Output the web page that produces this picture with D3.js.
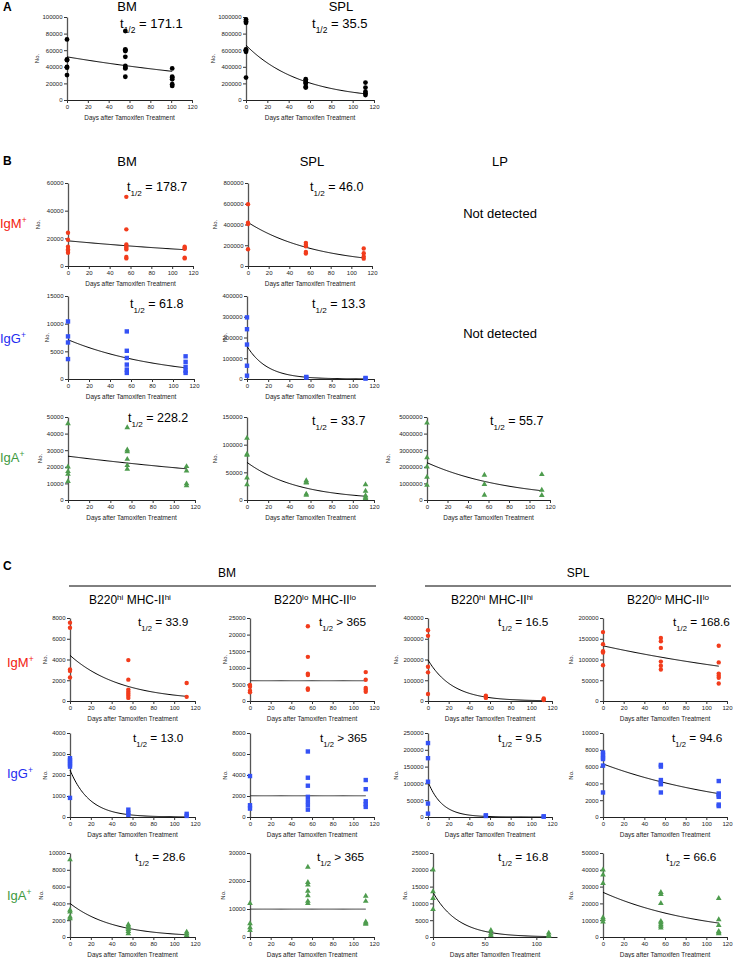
<!DOCTYPE html>
<html><head><meta charset="utf-8">
<script src="https://cdn.jsdelivr.net/npm/d3@7"></script>
<style>
body{margin:0;background:#fff}
svg{display:block}
text{font-family:"Liberation Sans",Arial,Helvetica,sans-serif;fill:#000}
</style>
</head><body>
<svg id="chart" width="733" height="958"></svg>
<script>
// ---------------- DATA ----------------
// each plot: [values at day 0, values at day ~56, values at day ~112]
const A_BM = [[73000,49000,48000,40000,39000,30000],[83000,61000,60000,59000,52000,41000,39000,38000,28000],[38000,28000,27000,25000,19000,17000]];
const A_SPL = [[970000,950000,930000,610000,600000,580000,270000],[250000,230000,210000,200000,160000,150000],[210000,150000,100000,80000,60000]];
const B_IgM_BM = [[24000,19000,14000,12000,11000,9500],[50000,26500,15500,14000,13000,12000,6500,5500],[14000,13000,12500,6000,5500]];
const B_IgM_SPL = [[596000,418000,404000,162000],[223000,204000,191000,136000,120000],[168000,123000,91000,71000]];
const B_IgG_BM = [[10400,7700,6600,3600],[8600,5100,3800,2600,1700,1100],[4100,3100,2200,1500,1100]];
const B_IgG_SPL = [[297000,240000,166000,64000,16000],[10000,7000],[5000,2000]];
const B_IgA_BM = [[46000,20000,17200,15600,11200],[43600,30200,29200,24600,20800,18600],[20200,17600,9800,8600]];
const B_IgA_SPL = [[112000,83000,81000,40000,28000],[35000,32000,31000,11000,9000],[28000,16000,8000,5000,3000]];
const B_IgA_LP = [[4640000,2560000,2000000,1380000,900000],[1500000,940000,300000],[1540000,600000,280000]];
const C_IgM_1 = [[7550,7060,3030,2900,2260],[3940,2060,1100,900,700,500,300],[1740,400]];
const C_IgM_2 = [[4800,4300,3100,2600],[22500,13300,8200,7800,3800,3400],[8700,6400,3900,3400,2800]];
const C_IgM_3 = [[341000,314000,165000,138000,34000],[25000,20000,15000],[12000,8000,5000]];
const C_IgM_4 = [[166000,137000,120000,117000,86000],[152000,144000,128000,95000,85000,76000],[133000,93000,66000,61000,56000,42000]];
const C_IgG_1 = [[2800,2700,2600,2500,2400,910],[350,200,100],[150,50]];
const C_IgG_2 = [[3900,1120,800],[6240,3740,2980,1920,1500,1120,700],[3520,2650,1500,1220,960]];
const C_IgG_3 = [[220000,175000,105000,40000,10000],[5000,3000],[2000,1000]];
const C_IgG_4 = [[7680,7400,7080,6900,6120,2920],[6200,6000,4400,4120,3900,2920],[4280,2800,2600,2400,1480,1300]];
const C_IgA_1 = [[9200,3200,3000,2400,2200],[1480,1300,1100,900,680,400],[600,400,200]];
const C_IgA_2 = [[12000,4800,3360,2400],[25000,19500,18600,16400,14800,12800,12000],[14600,12800,5400,5000,4560]];
const C_IgA_3 = [[20000,13500,11500,8200],[2000,1000,500],[1200,600,300]];
const C_IgA_4 = [[40000,37000,32000,11600,10500,9000],[26600,25400,20000,9400,8500,7400,6500,5400],[23000,10400,7000,3400,2600,2000]];

const plotData = [A_BM,A_SPL,B_IgM_BM,B_IgM_SPL,B_IgG_BM,B_IgG_SPL,B_IgA_BM,B_IgA_SPL,B_IgA_LP,
  C_IgM_1,C_IgM_2,C_IgM_3,C_IgM_4,C_IgG_1,C_IgG_2,C_IgG_3,C_IgG_4,C_IgA_1,C_IgA_2,C_IgA_3,C_IgA_4];
// sampling days for each plot
const sampleDays = [[0,56,101],[0,56,112],[0,56,112],[0,56,112],[0,56,112],[0,56,112],[0,56,112],[0,56,112],[0,56,112],
  [0,56,112],[0,56,112],[0,56,112],[0,56,112],[0,56,112],[0,56,112],[0,56,112],[0,56,112],[0,56,112],[0,56,112],[0,56,112],[0,56,112]];
// fitted exponential decay: start value and half-life (null = flat, t1/2 > 365)
const fitStart = [52000,660000,18200,420000,7100,158000,26400,68000,2250000,
  4400,6100,198000,133000,2240,2020,105000,6320,4000,9960,13300,26600];
const halfLife = [171.1,35.5,178.7,46.0,61.8,13.3,228.2,33.7,55.7,
  33.9,null,16.5,168.6,13.0,null,9.5,94.6,28.6,null,16.8,66.6];
const halfLabel = ["= 171.1","= 35.5","= 178.7","= 46.0","= 61.8","= 13.3","= 228.2","= 33.7","= 55.7",
  "= 33.9","> 365","= 16.5","= 168.6","= 13.0","> 365","= 9.5","= 94.6","= 28.6","> 365","= 16.8","= 66.6"];
// y axis tick labels (max, step)
const yMax = [100000,1000000,60000,800000,15000,400000,50000,150000,5000000,
  8000,25000,400000,200000,4000,8000,250000,10000,10000,30000,25000,50000];
const yStep = [20000,200000,20000,200000,5000,100000,10000,50000,1000000,
  2000,5000,100000,50000,1000,2000,50000,2000,2000,10000,5000,10000];
const xTicksStd = [0,20,40,60,80,100,120];
const xTicksAlt = [0,50,100];
// marker kind per plot
const markKind = ["A","A","M","M","G","G","A2","A2","A2","M","M","M","M","G","G","G","G","A2","A2","A2","A2"];

// ---------------- LAYOUT ----------------
// [x0, x1, yTop, yBot, noX, tx, ty, fontSize]
const layout = [
  [67,192,17,100,39,120,28,13],[246,374,17,100,215,312,28,13],
  [68,193,183,266,40,127,191,12.5],[248,372,183,266,217,310,191,12.5],
  [68,194,296,379,49,130,308,12.5],[247,374,296,379,227,312,308,12.5],
  [68,195,417,500,42,128,422,12.5],[247,374,417,500,217,312,425,12.5],[427,550,417,500,390,490,425,12.5],
  [70,195,618,701,47,138,626,11.8],[250,374,618,701,227,319,626,11.8],[428,552,618,701,398,498,626,11.8],[603,727,618,701,573,673,626,11.8],
  [70,195,733,817,47,133,742,11.8],[250,374,733,817,227,320,742,11.8],[428,552,733,817,398,498,742,11.8],[603,727,733,817,573,672,742,11.8],
  [70,195,853,937,43,135,861,11.8],[250,374,853,937,225,317,861,11.8],[433,557,853,937,407,498,861,11.8],[603,727,853,937,573,666,861,11.8]
];

const styles = {
  A:{color:"#000", shape:"circle", r:2.4},
  M:{color:"#f23c1c", shape:"circle", r:2.2},
  G:{color:"#3552f5", shape:"square", s:4.4},
  A2:{color:"#4e9c4e", shape:"triangle", s:14}
};

const svg = d3.select("#chart");
const fmt = d3.format("d");

plotData.forEach((data, i) => {
  const [x0,x1,yTop,yBot,noX,tx,ty,fs] = layout[i];
  const x = d3.scaleLinear().domain([0,120]).range([x0,x1]);
  const y = d3.scaleLinear().domain([0,yMax[i]]).range([yBot,yTop]);
  const g = svg.append("g");
  const yt = d3.range(0, yMax[i]+1, yStep[i]);
  const xt = (i===19) ? xTicksAlt : xTicksStd;

  const ya = g.append("g").attr("transform",`translate(${x0},0)`)
    .call(d3.axisLeft(y).tickValues(yt).tickSize(3).tickSizeOuter(0).tickPadding(1.5).tickFormat(fmt));
  ya.select(".domain").attr("stroke","#555").attr("stroke-width",1.3);
  ya.selectAll(".tick line").attr("stroke","#333");
  ya.selectAll("text").style("font-size","6px").style("fill","#222");

  const xa = g.append("g").attr("transform",`translate(0,${yBot})`)
    .call(d3.axisBottom(x).tickValues(xt).tickSize(3).tickSizeOuter(0).tickPadding(1.5).tickFormat(fmt));
  xa.select(".domain").attr("stroke","#222").attr("stroke-width",1);
  xa.selectAll(".tick line").attr("stroke","#333");
  xa.selectAll("text").style("font-size","6px").style("fill","#222");

  g.append("text").attr("x",(x0+x1)/2).attr("y",yBot+19.5).attr("text-anchor","middle")
    .style("font-size","6.4px").style("fill","#222").text("Days after Tamoxifen Treatment");
  g.append("text").attr("transform",`translate(${noX},${(yTop+yBot)/2}) rotate(-90)`)
    .attr("text-anchor","middle").style("font-size","6px").style("fill","#222").text("No.");

  // fit line
  const days = sampleDays[i];
  const last = days[days.length-1];
  const tt = d3.range(0,last+0.001,1);
  const h = halfLife[i];
  const f = t => h===null ? fitStart[i] : fitStart[i]*Math.pow(2,-t/h);
  g.append("path").datum(tt)
    .attr("d", d3.line().x(t=>x(t)).y(t=>y(f(t))))
    .attr("fill","none").attr("stroke", h===null ? "#333" : "#000").attr("stroke-width",1);

  // points
  const st = styles[markKind[i]];
  const pts = [];
  data.forEach((vals,k)=>vals.forEach(v=>pts.push({d:days[k],v})));
  if(st.shape==="circle"){
    g.selectAll("circle.p").data(pts).enter().append("circle").attr("class","p")
      .attr("cx",p=>x(p.d)).attr("cy",p=>y(p.v)).attr("r",st.r).attr("fill",st.color);
  } else if(st.shape==="square"){
    g.selectAll("rect.p").data(pts).enter().append("rect").attr("class","p")
      .attr("x",p=>x(p.d)-st.s/2).attr("y",p=>y(p.v)-st.s/2).attr("width",st.s).attr("height",st.s).attr("fill",st.color);
  } else {
    const sym = d3.symbol().type(d3.symbolTriangle).size(st.s);
    g.selectAll("path.p").data(pts).enter().append("path").attr("class","p")
      .attr("transform",p=>`translate(${x(p.d)},${y(p.v)})`).attr("d",sym).attr("fill",st.color);
  }

  // half-life label
  const t = g.append("text").attr("x",tx).attr("y",ty).style("font-size",fs+"px");
  t.append("tspan").text("t");
  t.append("tspan").attr("dy",4.5).style("font-size",(fs*0.65)+"px").text("1/2");
  t.append("tspan").attr("dy",-4.5).text(" "+halfLabel[i]);
});

// ---------------- ANNOTATIONS ----------------
function txt(x,y,s,size,anchor,color,weight){
  return svg.append("text").attr("x",x).attr("y",y).attr("text-anchor",anchor||"start")
    .style("font-size",size+"px").style("fill",color||"#000").style("font-weight",weight||"normal").text(s);
}
txt(3,11,"A",12,"start","#000","bold");
txt(3,165,"B",12,"start","#000","bold");
txt(3,570,"C",12,"start","#000","bold");

txt(127,11,"BM",13,"middle");
txt(341,11,"SPL",13,"middle");
txt(127,166,"BM",13,"middle");
txt(312,166,"SPL",13,"middle");
txt(500,166,"LP",13,"middle");
txt(500,218,"Not detected",13,"middle");
txt(500,338,"Not detected",13,"middle");

function rowLabel(x,y,base,color){
  const t = svg.append("text").attr("x",x).attr("y",y).style("font-size","13px").style("fill",color);
  t.append("tspan").text(base);
  t.append("tspan").attr("dy",-5).style("font-size","8.5px").style("fill",color).text("+");
}
const red="#f21a10", blue="#1f2cf0", green="#3f9a3f";
rowLabel(0,228,"IgM",red); rowLabel(0,343,"IgG",blue); rowLabel(0,462,"IgA",green);
rowLabel(7,667,"IgM",red); rowLabel(7,778,"IgG",blue); rowLabel(7,900,"IgA",green);

txt(227,577,"BM",12,"middle");
txt(578,577,"SPL",12,"middle");
svg.append("line").attr("x1",69).attr("x2",376).attr("y1",586).attr("y2",586).attr("stroke","#000").attr("stroke-width",1);
svg.append("line").attr("x1",425).attr("x2",731).attr("y1",586).attr("y2",586).attr("stroke","#000").attr("stroke-width",1);

function colTitle(cx,y,sup){
  const t = svg.append("text").attr("x",cx).attr("y",y).attr("text-anchor","middle").style("font-size","12px");
  t.append("tspan").text("B220");
  t.append("tspan").attr("dy",-4.5).style("font-size","8px").text(sup);
  t.append("tspan").attr("dy",4.5).text(" MHC-II");
  t.append("tspan").attr("dy",-4.5).style("font-size","8px").text(sup);
}
colTitle(130,604,"hi"); colTitle(315,604,"lo"); colTitle(492,604,"hi"); colTitle(668,604,"lo");
</script>
</body></html>
